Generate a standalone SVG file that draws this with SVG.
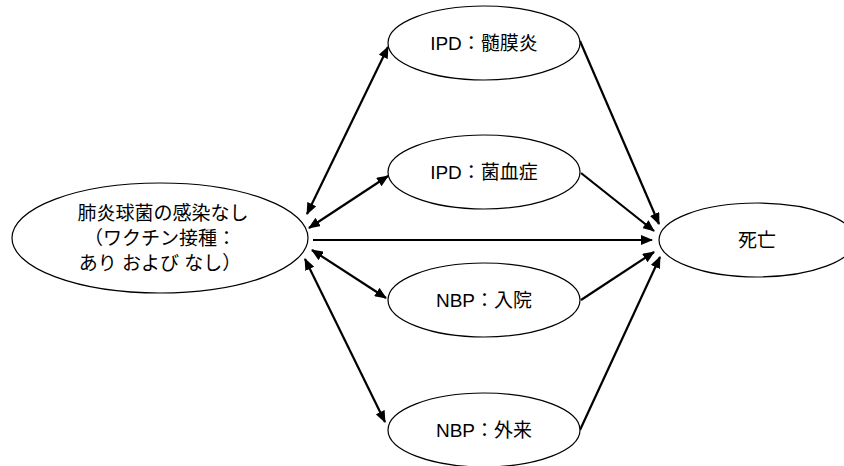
<svg xmlns="http://www.w3.org/2000/svg" width="844" height="466" viewBox="0 0 844 466">
<style>
.n{fill:#fff;stroke:#000;stroke-width:1.2}
.t{font-family:"Liberation Sans","Noto Sans CJK JP",sans-serif;font-size:19px;fill:#000;text-anchor:middle}
.c{stroke:#000;stroke-width:2.2;fill:none}
</style>
<defs>
<marker id="ah" markerWidth="12" markerHeight="10" refX="11" refY="5" orient="auto" markerUnits="userSpaceOnUse">
<path d="M0,0L12,5L0,10z" fill="#000"/>
</marker>
<marker id="as" markerWidth="12" markerHeight="10" refX="1" refY="5" orient="auto" markerUnits="userSpaceOnUse">
<path d="M12,0L0,5L12,10z" fill="#000"/>
</marker>
</defs>
<g id="connectors">
<line class="c" x1="307" y1="214" x2="388" y2="47" marker-start="url(#as)" marker-end="url(#ah)"/>
<line class="c" x1="309" y1="228" x2="388" y2="176" marker-start="url(#as)" marker-end="url(#ah)"/>
<line class="c" x1="312" y1="250" x2="386" y2="298" marker-start="url(#as)" marker-end="url(#ah)"/>
<line class="c" x1="305" y1="259" x2="385" y2="422" marker-start="url(#as)" marker-end="url(#ah)"/>
<line class="c" x1="313" y1="240" x2="652" y2="240" marker-end="url(#ah)"/>
<line class="c" x1="580" y1="41" x2="659" y2="224" marker-end="url(#ah)"/>
<line class="c" x1="581" y1="173" x2="654" y2="231" marker-end="url(#ah)"/>
<line class="c" x1="581" y1="300" x2="654" y2="252" marker-end="url(#ah)"/>
<line class="c" x1="580" y1="430" x2="660" y2="257" marker-end="url(#ah)"/>
</g>
<g id="n_none">
<ellipse class="n" cx="160" cy="238" rx="148" ry="55"/>
<text class="t" x="163" y="220">肺炎球菌の感染なし</text>
<text class="t" x="160" y="245">（ワクチン接種：</text>
<text class="t" x="160" y="270">あり および なし）</text>
</g>
<g id="n_ipd_m">
<ellipse class="n" cx="484" cy="43" rx="96" ry="37"/>
<text class="t" x="484" y="50">IPD：髄膜炎</text>
</g>
<g id="n_ipd_b">
<ellipse class="n" cx="484" cy="172" rx="96" ry="37"/>
<text class="t" x="484" y="179">IPD：菌血症</text>
</g>
<g id="n_nbp_h">
<ellipse class="n" cx="484" cy="300" rx="96" ry="37"/>
<text class="t" x="484" y="307">NBP：入院</text>
</g>
<g id="n_nbp_o">
<ellipse class="n" cx="484" cy="430" rx="96" ry="37"/>
<text class="t" x="484" y="437">NBP：外来</text>
</g>
<g id="n_death">
<ellipse class="n" cx="757" cy="240" rx="98" ry="37"/>
<text class="t" x="757" y="247">死亡</text>
</g>
</svg>
